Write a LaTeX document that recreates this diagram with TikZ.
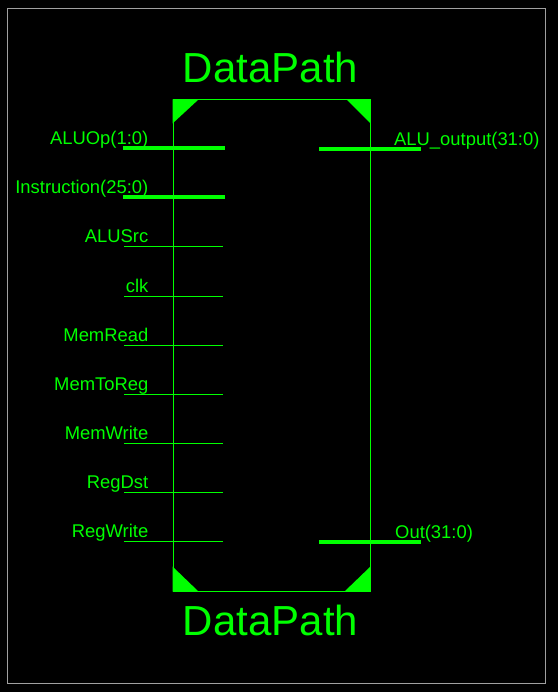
\documentclass[tikz,border=0pt]{standalone}
\usepackage{fontspec}
\setmainfont{Liberation Sans}
\usetikzlibrary{positioning}
\definecolor{pingreen}{RGB}{0,255,0}
\definecolor{framegray}{RGB}{160,160,160}
\tikzset{
  wire/.style={draw=pingreen, line width=1pt},
  buswire/.style={draw=pingreen, line width=4pt},
  pinlabel/.style={text=pingreen, inner sep=0pt, font=\fontsize{18.4}{18.4}\selectfont},
  title/.style={text=pingreen, inner sep=0pt, font=\fontsize{42}{42}\selectfont},
  corner/.style={fill=pingreen}
}
\begin{document}
\begin{tikzpicture}[x=1pt,y=-1pt]
  \fill[black] (0,0) rectangle (558,692);
  \useasboundingbox (0,0) rectangle (558,692);
  \draw[framegray, line width=1pt] (7.5,8.5) rectangle (545.5,683.5);

  % symbol body
  \node (dp) [draw=pingreen, line width=1pt, inner sep=0pt,
    minimum width=197pt, minimum height=491pt] at (271.5,345.5) {};
  \fill[corner] (dp.north west) -- ++(26,0) -- ++(-26,24) -- cycle;
  \fill[corner] (dp.north east) -- ++(-24,0) -- ++(24,24) -- cycle;
  \fill[corner] (dp.south west) -- ++(26,0) -- ++(-26,-25) -- cycle;
  \fill[corner] (dp.south east) -- ++(-26,0) -- ++(26,-25) -- cycle;

  \node (title-top) [title, anchor=base] at (270.5,83) {DataPath};
  \node (title-bot) [title, anchor=base] at (270.5,635) {DataPath};

  % bus inputs
  \coordinate (aluop-a) at (123,148);
  \coordinate (aluop-b) at (225,148);
  \coordinate (instr-a) at (123,197);
  \coordinate (instr-b) at (225,197);
  \draw[buswire] (aluop-a) -- (aluop-b);
  \draw[buswire] (instr-a) -- (instr-b);
  \node (aluop-lbl) [pinlabel, anchor=base east] at (148.5,145) {ALUOp(1:0)};
  \node (instr-lbl) [pinlabel, anchor=base east] at (148.5,194) {Instruction(25:0)};

  % single-bit inputs
  \foreach \name/\y in {ALUSrc/247, clk/296, MemRead/345, MemToReg/394,
                        MemWrite/443, RegDst/492, RegWrite/541} {
    \coordinate (\name-a) at (124,\y);
    \coordinate (\name-b) at (223,\y);
    \draw[wire] (\name-a) -- (\name-b);
    \node (\name-lbl) [pinlabel, anchor=base east] at (148.5,\y-4) {\name};
  }

  % bus outputs
  \coordinate (aluout-a) at (319,149);
  \coordinate (aluout-b) at (421,149);
  \coordinate (out-a) at (319,542);
  \coordinate (out-b) at (421,542);
  \draw[buswire] (aluout-a) -- (aluout-b);
  \draw[buswire] (out-a) -- (out-b);
  \node (aluout-lbl) [pinlabel, anchor=base west] at (394,146) {ALU\_output(31:0)};
  \node (out-lbl) [pinlabel, anchor=base west] at (395,538) {Out(31:0)};
\end{tikzpicture}
\end{document}
